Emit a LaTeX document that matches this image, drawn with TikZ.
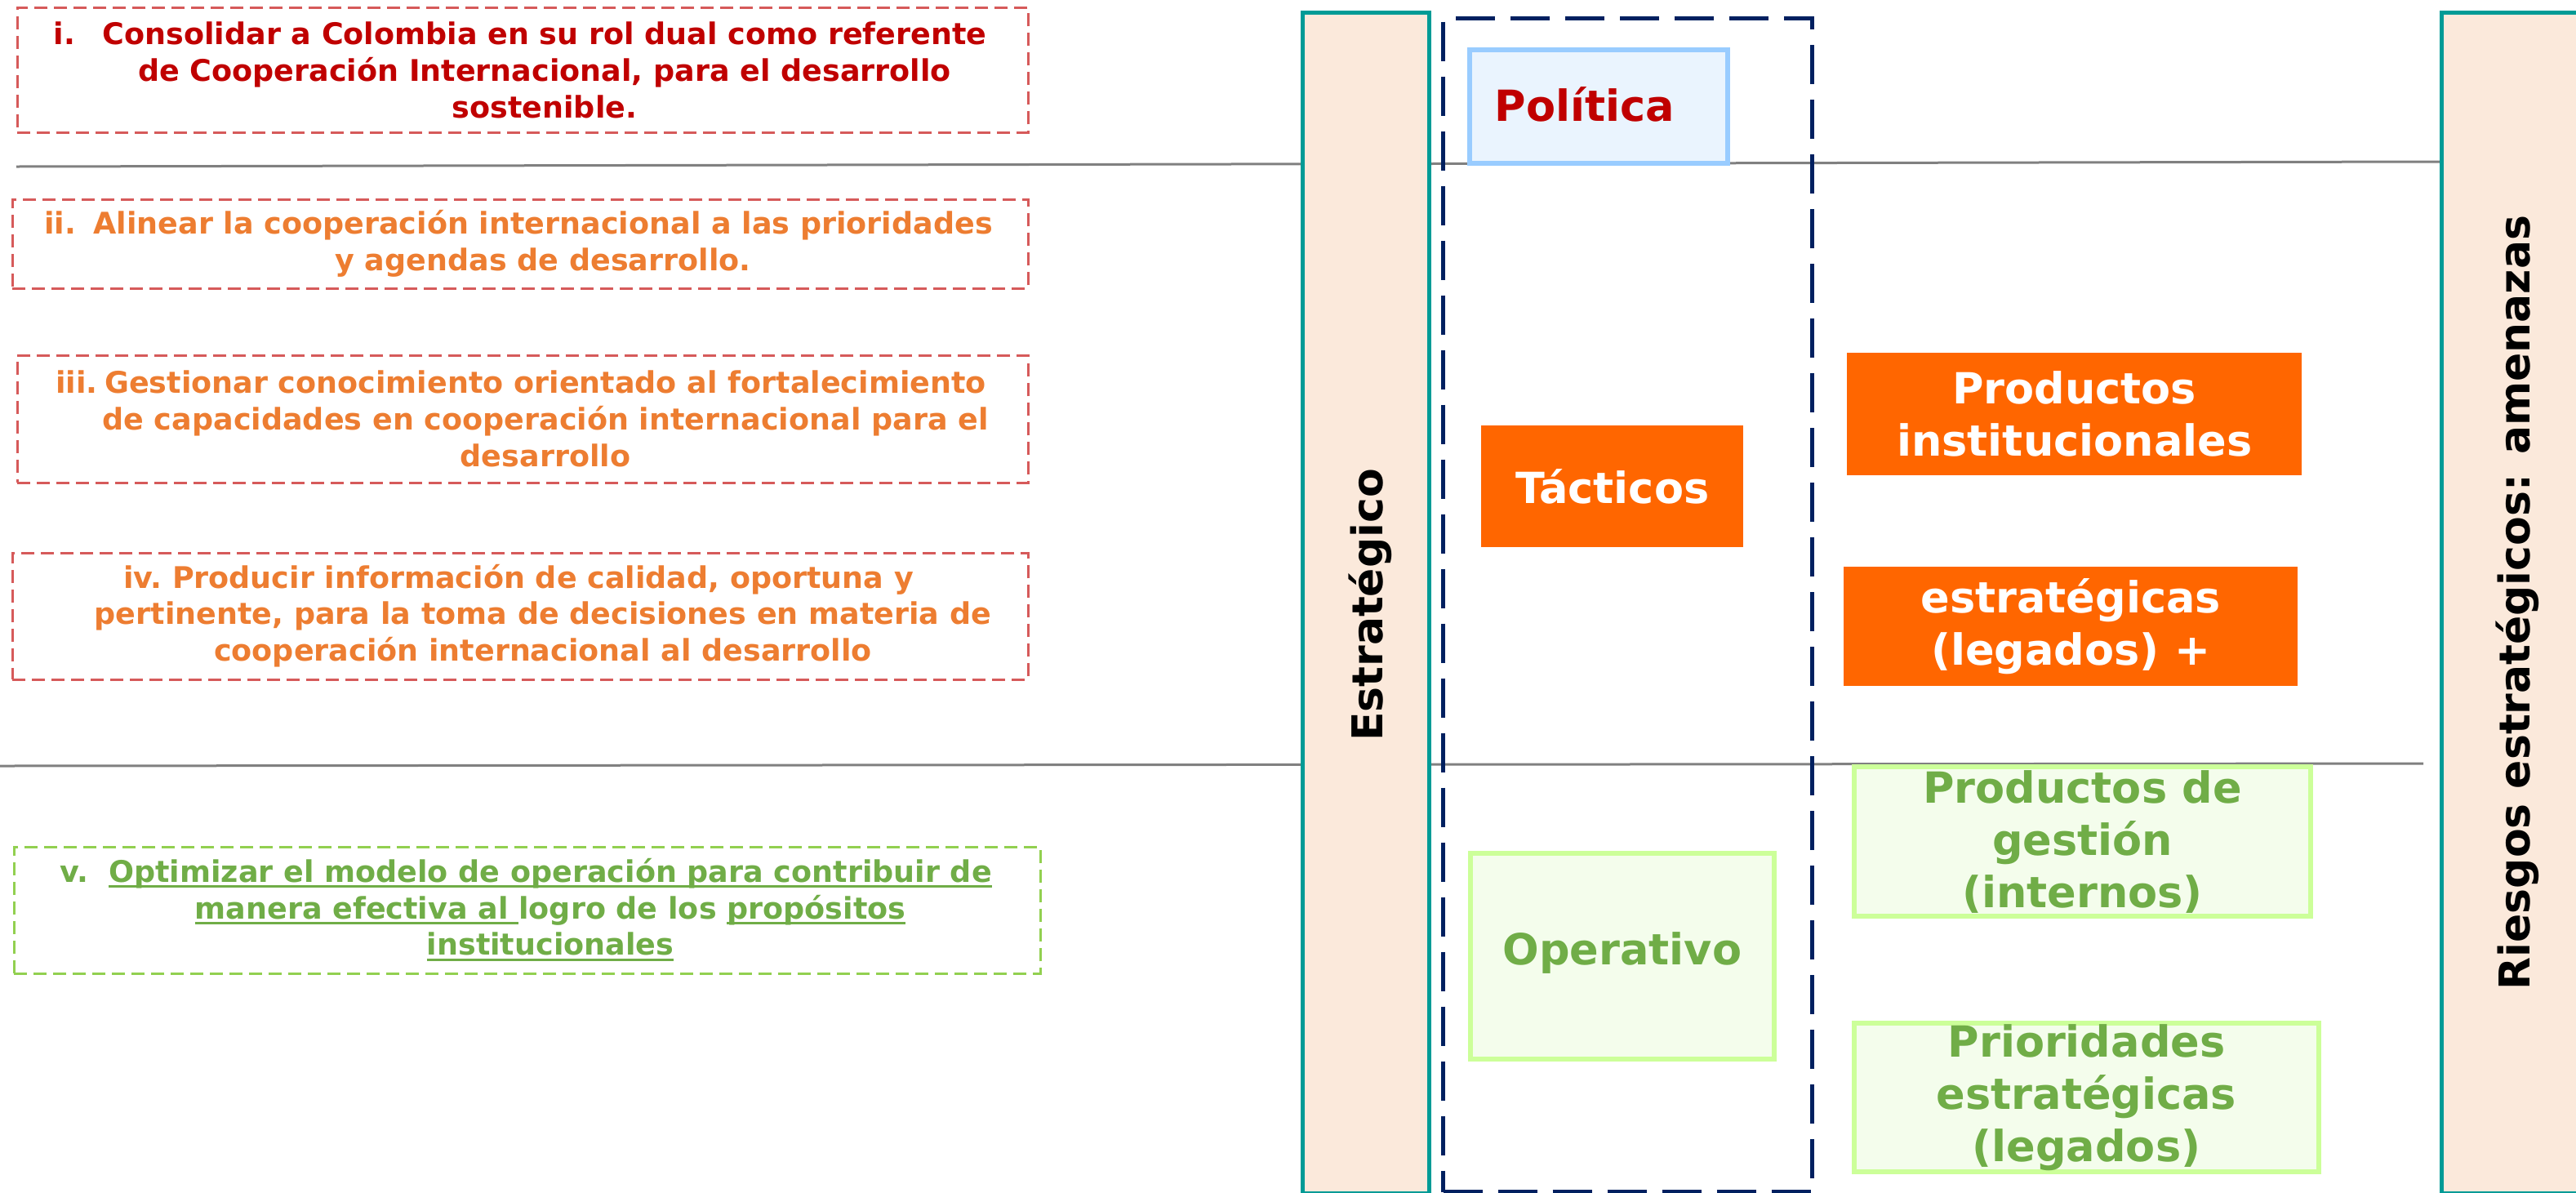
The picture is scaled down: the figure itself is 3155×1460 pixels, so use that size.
\documentclass[tikz,border=0pt]{standalone}
\usepackage{fontspec}
\setmainfont{DejaVu Sans}
\definecolor{dred}{HTML}{C00000}
\definecolor{ora}{HTML}{ED7D31}
\definecolor{grn}{HTML}{70AD47}
\definecolor{redbrd}{HTML}{D65A5A}
\definecolor{grnbrd}{HTML}{92D050}
\definecolor{teal2}{HTML}{009B96}
\definecolor{peach}{HTML}{FBE9DB}
\definecolor{navy}{HTML}{002060}
\definecolor{sep}{HTML}{808080}
\definecolor{polfill}{HTML}{EAF4FE}
\definecolor{polbrd}{HTML}{99CCFF}
\definecolor{gfill}{HTML}{F4FDEC}
\definecolor{gbrd}{HTML}{CCFF99}
\definecolor{orfill}{HTML}{FF6600}
\newcommand{\goalfont}{\bfseries\fontsize{36.5}{44.7}\selectfont}
\newcommand{\bigfont}{\bfseries\fontsize{52.5}{64}\selectfont}
\newcommand{\num}[1]{\llap{\makebox[60pt][l]{#1}}}
\newsavebox\ulbox
\newcommand{\ulin}[1]{\sbox\ulbox{#1}\rlap{\rule[-7pt]{\wd\ulbox}{3pt}}\usebox\ulbox}
\begin{document}
\begin{tikzpicture}[x=1pt,y=-1pt,
  goalbox/.style={draw=#1, line width=2.5pt, dash pattern=on 16pt off 8pt, anchor=north west, inner sep=0pt},
  goaltext/.style={text=#1, align=center, inner sep=0pt, font=\goalfont},
  sepline/.style={draw=sep, line width=3pt},
  colbox/.style={draw=teal2, fill=peach, line width=5pt, anchor=north west, inner sep=0pt},
  coltext/.style={rotate=90, anchor=base, inner sep=0pt, font=\bfseries\fontsize{52}{62}\selectfont},
  framebox/.style={draw=navy, line width=5pt, dash pattern=on 48pt off 19pt, anchor=north west, inner sep=0pt},
  polbox/.style={draw=polbrd, fill=polfill, line width=6pt, anchor=north west, inner sep=0pt},
  orbox/.style={fill=orfill, anchor=north west, inner sep=0pt},
  grbox/.style={draw=gbrd, fill=gfill, line width=6pt, anchor=north west, inner sep=0pt},
  bigtext/.style={text=#1, align=center, inner sep=0pt, font=\bigfont}
]
\useasboundingbox (0,0) rectangle (3155,1460);

% separator lines
\coordinate (l1a) at (20,204);
\coordinate (l1b) at (2988,198);
\coordinate (l2a) at (0,938);
\coordinate (l2b) at (2968,935);
\draw[sepline] (l1a) -- (l1b);
\draw[sepline] (l2a) -- (l2b);

% goal boxes
\node[goalbox=redbrd, minimum width=1238, minimum height=153] (gi) at (20,8) {};
\node[goaltext=dred] (ti) at (667,86) {\num{i.}Consolidar a Colombia en su rol dual como referente\\de Cooperación Internacional, para el desarrollo\\sostenible.};

\node[goalbox=redbrd, minimum width=1244, minimum height=109] (gii) at (14,243) {};
\node[goaltext=ora] (tii) at (665,298) {\num{ii.}Alinear la cooperación internacional a las prioridades\\y agendas de desarrollo.};

\node[goalbox=redbrd, minimum width=1238, minimum height=156] (giii) at (20,434) {};
\node[goaltext=ora] (tiii) at (668,513) {\num{iii.}Gestionar conocimiento orientado al fortalecimiento\\de capacidades en cooperación internacional para el\\desarrollo};

\node[goalbox=redbrd, minimum width=1244, minimum height=155] (giv) at (14,676) {};
\node[goaltext=ora] (tiv) at (665,754) {\num{iv.}Producir información de calidad, oportuna y\\pertinente, para la toma de decisiones en materia de\\cooperación internacional al desarrollo};

\node[goalbox=grnbrd, minimum width=1257, minimum height=155] (gv) at (16,1036) {};
\node[goaltext=grn] (tv) at (674,1114) {\num{v.}\ulin{Optimizar el modelo de operación para contribuir de}\\\ulin{manera efectiva al\ }logro de los \ulin{propósitos}\\\ulin{institucionales}};

% columns
\node[colbox, minimum width=155, minimum height=1446] (colL) at (1593,13) {};
\node[coltext] (tL) at (1693,741) {Estratégico};
\node[colbox, minimum width=190, minimum height=1446] (colR) at (2988,13) {};
\node[coltext] (tR) at (3098,738) {Riesgos estratégicos: amenazas};

% dashed frame
\node[framebox, minimum width=452, minimum height=1437] (frame) at (1765,20) {};

% levels
\node[polbox, minimum width=316, minimum height=139] (pol) at (1797,58) {};
\node[bigtext=dred] (tpol) at (1941,128) {Política};

\node[orbox, minimum width=321, minimum height=149] (tac) at (1814,521) {};
\node[bigtext=white] at (tac.center) {Tácticos};

\node[orbox, minimum width=557, minimum height=150] (pin) at (2262,432) {};
\node[bigtext=white] at (pin.center) {Productos\\institucionales};

\node[orbox, minimum width=556, minimum height=146] (est) at (2258,694) {};
\node[bigtext=white] at (est.center) {estratégicas\\(legados) +};

\node[grbox, minimum width=559, minimum height=183] (pge) at (2268,936) {};
\node[bigtext=grn] at (pge.center) {Productos de\\gestión\\(internos)};

\node[grbox, minimum width=372, minimum height=252] (ope) at (1798,1042) {};
\node[bigtext=grn] at ([yshift=4]ope.center) {Operativo};

\node[grbox, minimum width=569, minimum height=182] (pri) at (2268,1250) {};
\node[bigtext=grn] at (pri.center) {Prioridades\\estratégicas\\(legados)};
\end{tikzpicture}
\end{document}
